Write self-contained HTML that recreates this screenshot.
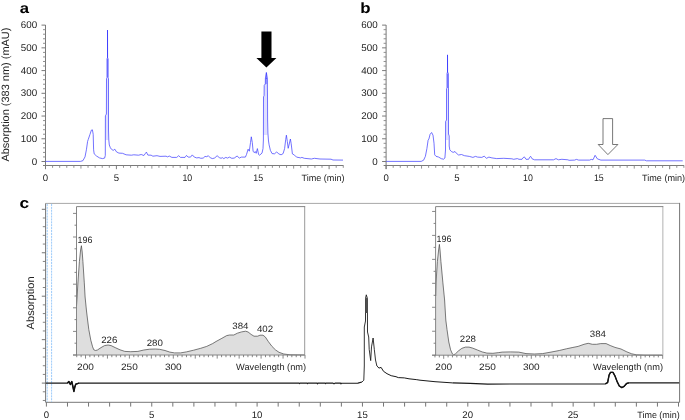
<!DOCTYPE html>
<html><head><meta charset="utf-8"><title>Figure</title>
<style>html,body{margin:0;padding:0;background:#fff}body{width:685px;height:420px;overflow:hidden}</style>
</head><body>
<svg width="685" height="420" viewBox="0 0 685 420" style="display:block" text-rendering="geometricPrecision" font-family="'Liberation Sans', Arial, sans-serif" fill="#222">
<rect x="0" y="0" width="685" height="420" fill="#fff"/>
<path d="M45.5,25 V169" stroke="#7a7a7a" stroke-width="1" fill="none"/>
<path d="M43.0,165.5 H343.5" stroke="#7a7a7a" stroke-width="1" fill="none"/>
<path d="M41.5,161.50H45.5M41.5,138.77H45.5M41.5,116.04H45.5M41.5,93.31H45.5M41.5,70.58H45.5M41.5,47.85H45.5M41.5,25.12H45.5M45.50,165.5V169.2M116.40,165.5V169.2M187.30,165.5V169.2M258.20,165.5V169.2M329.10,165.5V169.2" stroke="#7a7a7a" stroke-width="1" fill="none"/>
<path d="M43.0,156.95H45.5M43.0,152.41H45.5M43.0,147.86H45.5M43.0,143.32H45.5M43.0,134.22H45.5M43.0,129.68H45.5M43.0,125.13H45.5M43.0,120.59H45.5M43.0,111.49H45.5M43.0,106.95H45.5M43.0,102.40H45.5M43.0,97.86H45.5M43.0,88.76H45.5M43.0,84.22H45.5M43.0,79.67H45.5M43.0,75.13H45.5M43.0,66.03H45.5M43.0,61.49H45.5M43.0,56.94H45.5M43.0,52.40H45.5M43.0,43.30H45.5M43.0,38.76H45.5M43.0,34.21H45.5M43.0,29.67H45.5M52.59,165.5V167.8M59.68,165.5V167.8M66.77,165.5V167.8M73.86,165.5V167.8M80.95,165.5V168.6M88.04,165.5V167.8M95.13,165.5V167.8M102.22,165.5V167.8M109.31,165.5V167.8M123.49,165.5V167.8M130.58,165.5V167.8M137.67,165.5V167.8M144.76,165.5V167.8M151.85,165.5V168.6M158.94,165.5V167.8M166.03,165.5V167.8M173.12,165.5V167.8M180.21,165.5V167.8M194.39,165.5V167.8M201.48,165.5V167.8M208.57,165.5V167.8M215.66,165.5V167.8M222.75,165.5V168.6M229.84,165.5V167.8M236.93,165.5V167.8M244.02,165.5V167.8M251.11,165.5V167.8M265.29,165.5V167.8M272.38,165.5V167.8M279.47,165.5V167.8M286.56,165.5V167.8M293.65,165.5V168.6M300.74,165.5V167.8M307.83,165.5V167.8M314.92,165.5V167.8M322.01,165.5V167.8M336.19,165.5V167.8M343.28,165.5V167.8" stroke="#858585" stroke-width="0.9" fill="none"/>
<text x="37.1" y="164.5" font-size="9.8" text-anchor="end">0</text>
<text x="37.1" y="141.8" font-size="9.8" text-anchor="end">100</text>
<text x="37.1" y="119.0" font-size="9.8" text-anchor="end">200</text>
<text x="37.1" y="96.3" font-size="9.8" text-anchor="end">300</text>
<text x="37.1" y="73.6" font-size="9.8" text-anchor="end">400</text>
<text x="37.1" y="50.8" font-size="9.8" text-anchor="end">500</text>
<text x="37.1" y="28.1" font-size="9.8" text-anchor="end">600</text>
<text x="45.5" y="181.0" font-size="9.6" text-anchor="middle">0</text>
<text x="116.4" y="181.0" font-size="9.6" text-anchor="middle">5</text>
<text x="187.3" y="181.0" font-size="9.6" text-anchor="middle" textLength="9.8" lengthAdjust="spacingAndGlyphs">10</text>
<text x="258.2" y="181.0" font-size="9.6" text-anchor="middle" textLength="9.8" lengthAdjust="spacingAndGlyphs">15</text>
<text x="301.5" y="181.2" font-size="9.2" textLength="43" lengthAdjust="spacingAndGlyphs">Time (min)</text>
<path d="M386.1,25 V169" stroke="#7a7a7a" stroke-width="1" fill="none"/>
<path d="M383.6,165.5 H684.1" stroke="#7a7a7a" stroke-width="1" fill="none"/>
<path d="M382.1,161.50H386.1M382.1,138.77H386.1M382.1,116.04H386.1M382.1,93.31H386.1M382.1,70.58H386.1M382.1,47.85H386.1M382.1,25.12H386.1M386.10,165.5V169.2M457.00,165.5V169.2M527.90,165.5V169.2M598.80,165.5V169.2M669.70,165.5V169.2" stroke="#7a7a7a" stroke-width="1" fill="none"/>
<path d="M383.6,156.95H386.1M383.6,152.41H386.1M383.6,147.86H386.1M383.6,143.32H386.1M383.6,134.22H386.1M383.6,129.68H386.1M383.6,125.13H386.1M383.6,120.59H386.1M383.6,111.49H386.1M383.6,106.95H386.1M383.6,102.40H386.1M383.6,97.86H386.1M383.6,88.76H386.1M383.6,84.22H386.1M383.6,79.67H386.1M383.6,75.13H386.1M383.6,66.03H386.1M383.6,61.49H386.1M383.6,56.94H386.1M383.6,52.40H386.1M383.6,43.30H386.1M383.6,38.76H386.1M383.6,34.21H386.1M383.6,29.67H386.1M393.19,165.5V167.8M400.28,165.5V167.8M407.37,165.5V167.8M414.46,165.5V167.8M421.55,165.5V168.6M428.64,165.5V167.8M435.73,165.5V167.8M442.82,165.5V167.8M449.91,165.5V167.8M464.09,165.5V167.8M471.18,165.5V167.8M478.27,165.5V167.8M485.36,165.5V167.8M492.45,165.5V168.6M499.54,165.5V167.8M506.63,165.5V167.8M513.72,165.5V167.8M520.81,165.5V167.8M534.99,165.5V167.8M542.08,165.5V167.8M549.17,165.5V167.8M556.26,165.5V167.8M563.35,165.5V168.6M570.44,165.5V167.8M577.53,165.5V167.8M584.62,165.5V167.8M591.71,165.5V167.8M605.89,165.5V167.8M612.98,165.5V167.8M620.07,165.5V167.8M627.16,165.5V167.8M634.25,165.5V168.6M641.34,165.5V167.8M648.43,165.5V167.8M655.52,165.5V167.8M662.61,165.5V167.8M676.79,165.5V167.8M683.88,165.5V167.8" stroke="#858585" stroke-width="0.9" fill="none"/>
<text x="377.7" y="164.5" font-size="9.8" text-anchor="end">0</text>
<text x="377.7" y="141.8" font-size="9.8" text-anchor="end">100</text>
<text x="377.7" y="119.0" font-size="9.8" text-anchor="end">200</text>
<text x="377.7" y="96.3" font-size="9.8" text-anchor="end">300</text>
<text x="377.7" y="73.6" font-size="9.8" text-anchor="end">400</text>
<text x="377.7" y="50.8" font-size="9.8" text-anchor="end">500</text>
<text x="377.7" y="28.1" font-size="9.8" text-anchor="end">600</text>
<text x="386.1" y="181.0" font-size="9.6" text-anchor="middle">0</text>
<text x="457.0" y="181.0" font-size="9.6" text-anchor="middle">5</text>
<text x="527.9" y="181.0" font-size="9.6" text-anchor="middle" textLength="9.8" lengthAdjust="spacingAndGlyphs">10</text>
<text x="598.8" y="181.0" font-size="9.6" text-anchor="middle" textLength="9.8" lengthAdjust="spacingAndGlyphs">15</text>
<text x="642.1" y="181.2" font-size="9.2" textLength="43" lengthAdjust="spacingAndGlyphs">Time (min)</text>
<text x="19.8" y="12.7" font-size="14.6" font-weight="bold" fill="#000" textLength="9.3" lengthAdjust="spacingAndGlyphs">a</text>
<text x="360.3" y="12.5" font-size="14.8" font-weight="bold" fill="#000" textLength="10.3" lengthAdjust="spacingAndGlyphs">b</text>
<text x="19.6" y="208.3" font-size="14.8" font-weight="bold" fill="#000" textLength="9.6" lengthAdjust="spacingAndGlyphs">c</text>
<text transform="translate(9.0,161.6) rotate(-90)" font-size="10.6" textLength="134" lengthAdjust="spacingAndGlyphs">Absorption (383 nm) (mAU)</text>
<path d="M45.5,161.4 L80.5,161.4 L82.9,160.7 L85.0,156.9 L86.4,149.8 L87.6,141.4 L88.2,139.6 L90.0,134.3 L91.4,130.1 L92.4,129.8 L93.2,134.3 L93.6,149.8 L94.2,153.9 L96.5,156.0 L99.5,157.9 L102.5,158.6 L104.6,158.1 L105.3,155.5 L105.4,116.0 L106.4,114.0 L106.5,79.0 L107.0,77.5 L107.0,59.0 L107.5,57.5 L107.5,30.1 L107.6,57.5 L108.1,59.0 L108.1,77.5 L108.5,79.0 L108.5,130.0 L108.8,140.0 L109.3,145.0 L110.4,147.8 L111.4,149.2 L113.2,150.4 L114.8,149.2 L116.5,151.9 L118.9,153.1 L122.5,153.3 L126.1,154.8 L131.4,155.2 L133.8,154.8 L138.6,155.2 L141.2,154.5 L143.9,155.5 L145.5,153.3 L146.4,152.1 L147.9,155.1 L151.1,155.2 L152.9,156.2 L157.0,155.7 L160.0,156.4 L166.0,156.2 L167.7,156.9 L169.2,156.0 L171.9,157.4 L176.7,157.4 L178.7,155.7 L180.5,157.4 L185.0,157.4 L186.5,155.4 L188.1,157.1 L190.5,157.1 L192.3,154.9 L194.3,157.1 L196.7,157.9 L199.0,157.6 L200.8,158.3 L203.2,158.1 L205.0,156.4 L206.8,156.7 L208.3,155.7 L210.4,157.9 L212.7,158.6 L214.8,157.9 L217.1,155.7 L219.3,157.6 L221.1,158.3 L222.3,157.6 L223.8,158.6 L225.8,157.4 L227.6,158.1 L229.4,157.1 L231.8,158.3 L234.2,158.1 L237.1,156.0 L239.3,158.1 L241.3,157.1 L245.4,157.1 L246.5,154.5 L248.1,149.2 L249.3,151.2 L250.5,142.6 L251.3,136.8 L252.3,142.6 L253.1,151.2 L254.3,152.7 L255.2,151.5 L256.2,153.3 L257.4,148.6 L258.6,154.5 L259.6,155.2 L262.0,153.1 L263.0,148.6 L263.4,140.0 L263.5,97.0 L264.1,95.5 L264.2,85.5 L265.3,84.0 L265.4,78.0 L266.4,72.6 L267.3,78.0 L267.5,96.0 L267.6,120.0 L267.9,133.0 L268.5,141.0 L269.1,144.8 L270.4,150.4 L272.1,153.6 L274.5,153.8 L276.7,151.9 L278.7,153.9 L281.1,154.8 L283.1,153.6 L284.6,148.6 L285.7,139.6 L286.4,135.2 L287.3,141.4 L288.2,148.3 L289.0,145.0 L290.4,139.0 L291.2,143.8 L292.4,153.9 L294.5,155.1 L296.5,157.1 L300.7,157.9 L301.9,157.4 L304.3,158.3 L311.4,159.0 L314.4,158.3 L320.0,159.0 L331.0,159.2 L333.0,160.0 L343.0,160.1" stroke="#3c3cff" stroke-width="0.72" fill="none" stroke-linejoin="round"/>
<path d="M386.2,161.4 L421.2,161.4 L423.6,160.2 L425.4,156.3 L426.9,148.6 L428.1,140.2 L428.9,139.0 L430.1,134.3 L431.6,132.5 L433.0,135.2 L434.0,143.2 L434.7,154.8 L436.0,156.3 L438.7,157.1 L441.3,158.7 L443.7,159.2 L444.9,158.0 L445.5,150.0 L445.6,121.5 L446.5,120.0 L446.5,89.0 L447.0,88.0 L447.0,73.5 L447.5,72.0 L447.5,54.9 L447.6,72.0 L448.3,73.5 L448.4,88.0 L448.5,89.0 L448.5,134.0 L449.2,136.0 L449.2,146.0 L449.8,149.8 L451.4,151.5 L453.2,152.4 L455.0,151.5 L456.4,153.3 L458.6,155.0 L461.5,154.5 L464.5,155.7 L469.3,156.4 L472.9,157.4 L475.5,156.4 L477.6,157.1 L481.8,157.4 L484.2,156.2 L486.5,158.3 L488.9,157.1 L491.9,157.9 L496.7,158.6 L503.8,158.3 L511.9,158.8 L513.7,159.3 L517.3,158.6 L519.0,159.3 L522.0,159.3 L523.2,157.6 L524.4,156.9 L526.0,159.3 L528.6,159.3 L529.8,157.1 L530.6,156.3 L532.1,158.8 L534.5,159.8 L553.6,159.8 L556.0,158.6 L558.3,159.8 L561.9,159.3 L567.9,159.8 L569.0,160.3 L574.6,160.1 L576.4,159.4 L578.7,160.1 L589.5,160.1 L591.3,159.4 L593.0,159.8 L595.1,155.3 L597.4,158.9 L600.9,160.1 L644.7,160.1 L646.4,160.8 L682.7,160.8" stroke="#3c3cff" stroke-width="0.72" fill="none" stroke-linejoin="round"/>
<path d="M105.4,116 H106.5 V79 H108.5 V140 H105.4 Z M263.5,97 H264.2 V84 H267.5 V135 H263.5 Z M445.6,121 H446.5 V89 H448.5 V140 H445.6 Z" fill="#3c3cff" fill-opacity="0.16"/>
<path d="M107,59 H108.1 V77.5 H107 Z M265.4,78 H267.3 V84 H265.4 Z M447,73.5 H448.3 V88 H447 Z" fill="#3c3cff" fill-opacity="0.5"/>
<path d="M107.5,30.1 V58 M447.5,54.9 V72.5 M266.4,72.6 V79" stroke="#3c3cff" stroke-width="0.7" fill="none"/>
<path d="M261.4,31.5 H271.5 V57.9 H276.4 L266.4,67.6 L256.4,57.9 H261.4 Z" fill="#000"/>
<path d="M603,118.6 H612.6 V144.5 H617.9 L607.9,154.6 L598.2,144.5 H603 Z" fill="#fff" stroke="#555" stroke-width="0.8"/>
<path d="M45.6,203.4 H679.6" fill="none" stroke="#a8a8a8" stroke-width="1"/>
<path d="M679.6,202.9 V402.3 H45.6 V203.4" fill="none" stroke="#777" stroke-width="1"/>
<path d="M47.2,203.9 V401.8 M51.6,203.9 V401.8" stroke="#9ccbfa" stroke-width="1" stroke-dasharray="2.1,0.8" fill="none"/>
<path d="M41.8,209.30H45.6M41.8,252.75H45.6M41.8,296.20H45.6M41.8,339.65H45.6M41.8,383.10H45.6M46.40,402.3V406.6M67.47,402.3V406.6M88.54,402.3V406.6M109.61,402.3V406.6M130.68,402.3V406.6M151.75,402.3V406.6M172.82,402.3V406.6M193.89,402.3V406.6M214.96,402.3V406.6M236.03,402.3V406.6M257.10,402.3V406.6M278.17,402.3V406.6M299.24,402.3V406.6M320.31,402.3V406.6M341.38,402.3V406.6M362.45,402.3V406.6M383.52,402.3V406.6M404.59,402.3V406.6M425.66,402.3V406.6M446.73,402.3V406.6M467.80,402.3V406.6M488.87,402.3V406.6M509.94,402.3V406.6M531.01,402.3V406.6M552.08,402.3V406.6M573.15,402.3V406.6M594.22,402.3V406.6M615.29,402.3V406.6M636.36,402.3V406.6M657.43,402.3V406.6M678.50,402.3V406.6" stroke="#757575" stroke-width="1" fill="none"/>
<path d="M42.8,217.99H45.6M42.8,226.68H45.6M42.8,235.37H45.6M42.8,244.06H45.6M42.8,261.44H45.6M42.8,270.13H45.6M42.8,278.82H45.6M42.8,287.51H45.6M42.8,304.89H45.6M42.8,313.58H45.6M42.8,322.27H45.6M42.8,330.96H45.6M42.8,348.34H45.6M42.8,357.03H45.6M42.8,365.72H45.6M42.8,374.41H45.6M42.8,391.79H45.6M42.8,400.48H45.6" stroke="#777" stroke-width="0.9" fill="none"/>
<text x="46.3" y="417.8" font-size="9.6" text-anchor="middle">0</text>
<text x="151.6" y="417.8" font-size="9.6" text-anchor="middle">5</text>
<text x="257.0" y="417.8" font-size="9.6" text-anchor="middle">10</text>
<text x="362.4" y="417.8" font-size="9.6" text-anchor="middle">15</text>
<text x="467.7" y="417.8" font-size="9.6" text-anchor="middle">20</text>
<text x="573.0" y="417.8" font-size="9.6" text-anchor="middle">25</text>
<text transform="translate(34.4,329.4) rotate(-90)" font-size="10.6" textLength="53" lengthAdjust="spacingAndGlyphs">Absorption</text>
<rect x="76.5" y="206.6" width="228.2" height="148.4" fill="#fff" stroke="none"/>
<path d="M76.5,306.0 L77.1,297.0 L77.9,283.0 L79.4,261.5 L80.6,250.0 L81.4,245.7 L82.2,252.0 L82.9,261.4 L84.3,282.9 L85.1,297.0 L86.5,311.0 L87.6,320.0 L88.8,329.5 L90.8,340.2 L92.6,346.8 L93.8,349.8 L95.6,350.5 L97.4,350.0 L101.0,347.6 L104.5,345.6 L108.1,345.0 L111.1,345.6 L115.2,347.6 L120.0,349.8 L124.8,351.4 L130.7,351.7 L137.9,351.4 L143.8,350.0 L149.5,349.2 L155.5,349.0 L159.6,349.3 L165.0,350.5 L169.8,352.1 L174.5,352.9 L180.5,352.9 L186.4,351.9 L193.6,350.2 L200.7,348.3 L206.7,346.4 L212.6,343.6 L216.0,341.5 L221.9,338.3 L226.7,335.6 L229.6,335.0 L233.8,335.0 L237.4,333.2 L241.5,331.9 L245.7,331.2 L248.1,332.0 L251.1,334.4 L254.0,336.2 L257.6,336.2 L260.0,335.2 L263.0,335.2 L265.4,337.1 L268.3,341.5 L271.9,346.3 L275.5,349.9 L279.0,352.3 L283.8,354.0 L290.0,354.8 L304.9,355.0 L304.9,355.0 L76.5,355.0 Z" fill="#dedede" stroke="none"/>
<path d="M76.5,306.0 L77.1,297.0 L77.9,283.0 L79.4,261.5 L80.6,250.0 L81.4,245.7 L82.2,252.0 L82.9,261.4 L84.3,282.9 L85.1,297.0 L86.5,311.0 L87.6,320.0 L88.8,329.5 L90.8,340.2 L92.6,346.8 L93.8,349.8 L95.6,350.5 L97.4,350.0 L101.0,347.6 L104.5,345.6 L108.1,345.0 L111.1,345.6 L115.2,347.6 L120.0,349.8 L124.8,351.4 L130.7,351.7 L137.9,351.4 L143.8,350.0 L149.5,349.2 L155.5,349.0 L159.6,349.3 L165.0,350.5 L169.8,352.1 L174.5,352.9 L180.5,352.9 L186.4,351.9 L193.6,350.2 L200.7,348.3 L206.7,346.4 L212.6,343.6 L216.0,341.5 L221.9,338.3 L226.7,335.6 L229.6,335.0 L233.8,335.0 L237.4,333.2 L241.5,331.9 L245.7,331.2 L248.1,332.0 L251.1,334.4 L254.0,336.2 L257.6,336.2 L260.0,335.2 L263.0,335.2 L265.4,337.1 L268.3,341.5 L271.9,346.3 L275.5,349.9 L279.0,352.3 L283.8,354.0 L290.0,354.8 L304.9,355.0" fill="none" stroke="#444" stroke-width="0.7" stroke-linejoin="round"/>
<path d="M304.7,206.6 V355.0" stroke="#999" stroke-width="1" fill="none"/>
<path d="M76.5,355.0 V206.6 H305.2" fill="none" stroke="#808080" stroke-width="0.95"/>
<path d="M73.0,355.0 H304.7" fill="none" stroke="#7c7c7c" stroke-width="0.9"/>
<path d="M73.0,355.00H76.5M73.0,331.40H76.5M73.0,307.80H76.5M73.0,284.20H76.5M73.0,260.60H76.5M73.0,237.00H76.5M73.0,213.40H76.5M85.50,355.0V358.6M107.45,355.0V358.6M129.40,355.0V358.6M151.35,355.0V358.6M173.30,355.0V358.6M195.25,355.0V358.6M217.20,355.0V358.6M239.15,355.0V358.6M261.10,355.0V358.6M283.05,355.0V358.6M305.00,355.0V358.6" stroke="#7a7a7a" stroke-width="0.9" fill="none"/>
<path d="M74.5,343.20H76.5M74.5,319.60H76.5M74.5,296.00H76.5M74.5,272.40H76.5M74.5,248.80H76.5M74.5,225.20H76.5M76.72,355.0V357.2M81.11,355.0V357.2M89.89,355.0V357.2M94.28,355.0V357.2M98.67,355.0V357.2M103.06,355.0V357.2M111.84,355.0V357.2M116.23,355.0V357.2M120.62,355.0V357.2M125.01,355.0V357.2M133.79,355.0V357.2M138.18,355.0V357.2M142.57,355.0V357.2M146.96,355.0V357.2M155.74,355.0V357.2M160.13,355.0V357.2M164.52,355.0V357.2M168.91,355.0V357.2M177.69,355.0V357.2M182.08,355.0V357.2M186.47,355.0V357.2M190.86,355.0V357.2M199.64,355.0V357.2M204.03,355.0V357.2M208.42,355.0V357.2M212.81,355.0V357.2M221.59,355.0V357.2M225.98,355.0V357.2M230.37,355.0V357.2M234.76,355.0V357.2M243.54,355.0V357.2M247.93,355.0V357.2M252.32,355.0V357.2M256.71,355.0V357.2M265.49,355.0V357.2M269.88,355.0V357.2M274.27,355.0V357.2M278.66,355.0V357.2M287.44,355.0V357.2M291.83,355.0V357.2M296.22,355.0V357.2M300.61,355.0V357.2" stroke="#777" stroke-width="0.9" fill="none"/>
<text x="85.5" y="369.9" font-size="9.2" text-anchor="middle" textLength="16.8" lengthAdjust="spacingAndGlyphs">200</text>
<text x="129.4" y="369.9" font-size="9.2" text-anchor="middle" textLength="16.8" lengthAdjust="spacingAndGlyphs">250</text>
<text x="173.3" y="369.9" font-size="9.2" text-anchor="middle" textLength="16.8" lengthAdjust="spacingAndGlyphs">300</text>
<text x="85.0" y="243.1" font-size="9.2" text-anchor="middle" textLength="14.8" lengthAdjust="spacingAndGlyphs">196</text>
<text x="109.3" y="342.7" font-size="9.2" text-anchor="middle" textLength="16.2" lengthAdjust="spacingAndGlyphs">226</text>
<text x="154.8" y="345.7" font-size="9.2" text-anchor="middle" textLength="16.2" lengthAdjust="spacingAndGlyphs">280</text>
<text x="240.4" y="328.9" font-size="9.2" text-anchor="middle" textLength="16.2" lengthAdjust="spacingAndGlyphs">384</text>
<text x="265.0" y="331.9" font-size="9.2" text-anchor="middle" textLength="16.2" lengthAdjust="spacingAndGlyphs">402</text>
<text x="236.1" y="369.8" font-size="9.2" textLength="70" lengthAdjust="spacingAndGlyphs">Wavelength (nm)</text>
<rect x="435.6" y="206.6" width="227.19999999999993" height="148.6" fill="#fff" stroke="none"/>
<path d="M435.7,296.0 L436.0,283.0 L437.4,261.4 L438.6,250.0 L439.4,244.4 L440.1,251.0 L440.9,261.4 L442.9,282.9 L444.6,300.0 L445.8,320.0 L447.0,329.5 L448.8,342.0 L450.6,349.8 L452.4,353.9 L453.6,354.8 L455.4,353.9 L458.3,351.0 L461.9,348.3 L465.5,347.1 L469.0,347.1 L472.6,348.1 L477.4,350.0 L482.1,351.9 L486.9,353.1 L492.9,353.3 L498.8,352.6 L502.1,352.1 L510.5,351.9 L518.8,352.1 L526.0,353.6 L534.3,354.0 L542.6,353.6 L551.0,352.1 L559.3,350.5 L566.4,348.8 L572.1,347.6 L578.1,346.4 L584.0,344.3 L588.2,343.3 L592.4,344.3 L596.5,344.3 L600.7,343.6 L606.1,343.6 L610.2,345.5 L615.0,347.4 L621.0,349.0 L626.9,351.9 L631.7,353.8 L636.4,354.8 L645.0,355.1 L662.8,355.1 L662.8,355.2 L435.7,355.2 Z" fill="#dedede" stroke="none"/>
<path d="M435.7,296.0 L436.0,283.0 L437.4,261.4 L438.6,250.0 L439.4,244.4 L440.1,251.0 L440.9,261.4 L442.9,282.9 L444.6,300.0 L445.8,320.0 L447.0,329.5 L448.8,342.0 L450.6,349.8 L452.4,353.9 L453.6,354.8 L455.4,353.9 L458.3,351.0 L461.9,348.3 L465.5,347.1 L469.0,347.1 L472.6,348.1 L477.4,350.0 L482.1,351.9 L486.9,353.1 L492.9,353.3 L498.8,352.6 L502.1,352.1 L510.5,351.9 L518.8,352.1 L526.0,353.6 L534.3,354.0 L542.6,353.6 L551.0,352.1 L559.3,350.5 L566.4,348.8 L572.1,347.6 L578.1,346.4 L584.0,344.3 L588.2,343.3 L592.4,344.3 L596.5,344.3 L600.7,343.6 L606.1,343.6 L610.2,345.5 L615.0,347.4 L621.0,349.0 L626.9,351.9 L631.7,353.8 L636.4,354.8 L645.0,355.1 L662.8,355.1" fill="none" stroke="#444" stroke-width="0.7" stroke-linejoin="round"/>
<path d="M662.8,206.6 V355.2" stroke="#c8c8c8" stroke-width="1.4" fill="none"/>
<path d="M435.6,355.2 V206.6 H663.3" fill="none" stroke="#808080" stroke-width="0.95"/>
<path d="M432.1,355.2 H662.8" fill="none" stroke="#7c7c7c" stroke-width="0.9"/>
<path d="M432.1,355.20H435.6M432.1,331.24H435.6M432.1,307.28H435.6M432.1,283.32H435.6M432.1,259.36H435.6M432.1,235.40H435.6M432.1,211.44H435.6M443.70,355.2V358.8M465.60,355.2V358.8M487.50,355.2V358.8M509.40,355.2V358.8M531.30,355.2V358.8M553.20,355.2V358.8M575.10,355.2V358.8M597.00,355.2V358.8M618.90,355.2V358.8M640.80,355.2V358.8M662.70,355.2V358.8" stroke="#7a7a7a" stroke-width="0.9" fill="none"/>
<path d="M433.6,343.22H435.6M433.6,319.26H435.6M433.6,295.30H435.6M433.6,271.34H435.6M433.6,247.38H435.6M433.6,223.42H435.6M434.94,355.2V357.4M439.32,355.2V357.4M448.08,355.2V357.4M452.46,355.2V357.4M456.84,355.2V357.4M461.22,355.2V357.4M469.98,355.2V357.4M474.36,355.2V357.4M478.74,355.2V357.4M483.12,355.2V357.4M491.88,355.2V357.4M496.26,355.2V357.4M500.64,355.2V357.4M505.02,355.2V357.4M513.78,355.2V357.4M518.16,355.2V357.4M522.54,355.2V357.4M526.92,355.2V357.4M535.68,355.2V357.4M540.06,355.2V357.4M544.44,355.2V357.4M548.82,355.2V357.4M557.58,355.2V357.4M561.96,355.2V357.4M566.34,355.2V357.4M570.72,355.2V357.4M579.48,355.2V357.4M583.86,355.2V357.4M588.24,355.2V357.4M592.62,355.2V357.4M601.38,355.2V357.4M605.76,355.2V357.4M610.14,355.2V357.4M614.52,355.2V357.4M623.28,355.2V357.4M627.66,355.2V357.4M632.04,355.2V357.4M636.42,355.2V357.4M645.18,355.2V357.4M649.56,355.2V357.4M653.94,355.2V357.4M658.32,355.2V357.4" stroke="#777" stroke-width="0.9" fill="none"/>
<text x="443.7" y="369.9" font-size="9.2" text-anchor="middle" textLength="16.8" lengthAdjust="spacingAndGlyphs">200</text>
<text x="487.5" y="369.9" font-size="9.2" text-anchor="middle" textLength="16.8" lengthAdjust="spacingAndGlyphs">250</text>
<text x="531.3" y="369.9" font-size="9.2" text-anchor="middle" textLength="16.8" lengthAdjust="spacingAndGlyphs">300</text>
<text x="444.0" y="242.0" font-size="9.2" text-anchor="middle" textLength="14.8" lengthAdjust="spacingAndGlyphs">196</text>
<text x="467.9" y="342.0" font-size="9.2" text-anchor="middle" textLength="16.2" lengthAdjust="spacingAndGlyphs">228</text>
<text x="597.9" y="337.1" font-size="9.2" text-anchor="middle" textLength="16.2" lengthAdjust="spacingAndGlyphs">384</text>
<text x="593.0" y="369.8" font-size="9.2" textLength="70" lengthAdjust="spacingAndGlyphs">Wavelength (nm)</text>
<path d="M45.8,383.1 L67.4,383.1 L68.9,381.6 L70.4,384.5 L71.8,381.6 L73.0,387.0 L73.9,391.4 L74.8,387.0 L75.8,384.1 L79.1,383.1 L299.0,383.1 L299.5,383.6 L300.0,383.1 L307.0,383.1 L307.5,383.7 L308.0,383.1 L317.0,383.1 L317.5,383.8 L318.0,383.1 L325.0,383.1 L325.5,383.7 L326.0,383.1 L333.0,383.1 L334.0,383.9 L335.0,383.1 L340.5,383.1 L341.0,383.8 L341.5,383.2 L357.9,383.1 L362.0,382.0" stroke="#1a1a1a" stroke-width="1.15" fill="none" stroke-linejoin="round"/>
<path d="M362.0,382.0 L363.8,380.2 L364.3,366.0 L364.3,327.0 L365.5,321.0 L365.5,298.5 L366.3,294.8 L367.4,298.5 L367.5,332.0 L368.7,337.0 L369.2,349.3 L370.7,360.6 L371.5,346.9 L373.1,338.0 L374.3,349.3 L375.5,360.0 L376.9,366.0" stroke="#1c1c1c" stroke-width="0.9" fill="none" stroke-linejoin="round"/>
<rect x="365.3" y="298" width="2.4" height="15" fill="#505050"/>
<path d="M376.9,366.0 L379.0,368.1 L381.1,367.4 L383.5,371.3 L387.0,373.7 L391.2,375.7 L396.0,376.7 L398.3,377.6 L404.3,377.9 L409.0,378.8 L416.2,379.6 L420.0,380.2 L435.0,381.7 L452.5,382.9" stroke="#1a1a1a" stroke-width="1.0" fill="none" stroke-linejoin="round"/>
<path d="M452.5,382.9 L470.0,383.4 L487.6,384.1 L605.4,383.8 L607.6,382.6 L609.1,375.0 L610.5,372.4 L613.0,372.4 L614.9,375.8 L617.1,381.6 L619.3,386.0 L621.8,387.6 L624.1,386.4 L626.6,383.5 L628.8,382.9 L679.2,382.9" stroke="#1a1a1a" stroke-width="1.15" fill="none" stroke-linejoin="round"/>
<text x="637.3" y="417.8" font-size="9.2" textLength="42.5" lengthAdjust="spacingAndGlyphs">Time (min)</text>
<path d="M67.4,383.1 L68.9,381.6 L70.4,384.5 L71.8,381.6 L73.0,387.0 L73.9,391.4 L74.8,387.0 L75.8,384.1 L79.1,383.1" stroke="#111" stroke-width="1.5" fill="none" stroke-linejoin="round"/>
<path d="M605.4,383.8 L607.6,382.6 L609.1,375.0 L610.5,372.4 L613.0,372.4 L614.9,375.8 L617.1,381.6 L619.3,386.0 L621.8,387.6 L624.1,386.4 L626.6,383.5 L628.8,382.9" stroke="#111" stroke-width="1.35" fill="none" stroke-linejoin="round"/>
</svg>
</body></html>
